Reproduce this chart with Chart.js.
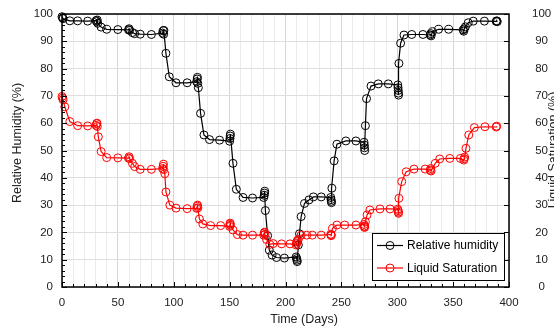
<!DOCTYPE html>
<html><head><meta charset="utf-8">
<script src="https://cdn.jsdelivr.net/npm/chart.js@4/dist/chart.umd.min.js"></script>
<style>html,body{margin:0;padding:0;background:#fff;overflow:hidden}canvas{display:block}</style>
</head><body>
<canvas id="c" width="554" height="329"></canvas>
<script>
const rhDays = [0,0.5,1,7,14,23,30.5,31,31.5,32,35,40,50,59.5,60,60.5,63,65,70,80,90,90.5,91,91.2,93,96,102,112,120.5,121,121.2,121.5,122,124,127,132,141,150,150.3,150.5,150.7,153,156,162,170.5,180.5,181,181.2,181.4,182,184,185.5,188,192,199,209.5,210,210.3,210.5,211.5,212.5,214,217,221,225,232,240.5,240.8,241,241.2,241.5,243.5,246,254,263,270.3,270.5,270.7,270.9,271.5,272.5,276.5,283,292,300.5,300.7,300.9,301,301.2,301.5,303,306,313,323,329.5,330,330.3,331.5,337,346,359,359.5,360,361,363.5,368,378,388.5,389,389.5];
const rhValues = [99,98.6,98.3,97.5,97.5,97.4,97.6,97.2,97.8,96.6,95.2,94.4,94.3,94.2,94.6,94.0,93.2,92.8,92.6,92.5,93.0,93.8,92.6,94.0,85.6,77.0,74.8,74.8,75.2,76.2,76.8,74.6,73.0,63.6,55.7,54.0,53.8,53.4,54.4,55.3,56.0,45.3,35.8,32.8,32.6,32.8,33.6,34.4,35.1,28.0,18.8,13.5,11.7,10.8,10.6,11.0,10.4,9.8,9.3,15.4,19.5,25.8,30.6,31.9,33.0,33.0,32.8,32.0,31.4,30.9,36.2,46.2,52.3,53.5,53.5,53.0,52.0,51.0,50.0,59.1,69.0,73.6,74.4,74.4,74.0,73.0,72.0,71.0,70.3,81.9,89.3,92.3,92.5,92.5,92.3,92.8,92.0,93.5,94.4,94.4,94.2,93.7,94.6,95.3,96.8,97.4,97.4,97.3,97.5,97.2];
const lsDays = [0,0.5,1,2.5,7,14,23,30.5,31,31.3,31.6,32.5,35,40,50,59.5,60,60.5,63,65,70,80,90,90.5,90.8,91,92,93,96.5,102,112,120.5,121,121.3,121.6,123,126,133,142,150,150.3,150.5,150.7,153,157,162,170.5,180.5,181,181.3,181.6,183,186,189,196.5,204,209.5,210,210.3,210.6,211.5,214,219,224,232,240.5,240.8,241,242,246,253,263,270.3,270.5,270.7,270.9,271.5,273,275.5,284.5,293.5,300.5,300.7,301,301.2,301.5,304,308,315,325,329.5,330,330.3,334,338,347,356.5,359.5,360,360.3,361.5,364,369,378.5,388.5,389];
const lsValues = [69.8,69.2,68.6,66.0,60.6,59.1,59.0,59.2,59.8,60.0,58.8,55.0,49.6,47.4,47.3,47.2,47.7,47.0,45.3,44.1,43.1,43.1,43.4,44.2,45.0,43.0,41.5,34.8,30.0,28.9,28.7,28.8,29.6,30.0,29.0,24.9,23.1,22.5,22.5,22.2,23.0,23.4,22.6,20.9,19.2,19.0,19.0,19.0,19.8,20.1,19.3,17.4,15.6,15.9,15.8,15.8,15.4,16.0,16.6,17.0,17.4,19.0,19.0,19.0,19.0,19.3,18.8,19.1,21.5,22.7,22.7,22.7,22.9,22.3,21.8,22.1,23.9,26.4,28.2,28.6,28.6,28.5,28.0,27.4,27.0,32.5,38.6,42.2,43.2,43.2,42.8,43.4,42.5,45.3,46.9,47.1,47.1,46.5,47.0,47.6,50.8,55.7,58.4,58.7,58.6,58.9];
const xTickLabels = [0,50,100,150,200,250,300,350,400];
const yTickLabels = [0,10,20,30,40,50,60,70,80,90,100];
const seriesNames = ['Relative humidity','Liquid Saturation'];
const xTitle = 'Time (Days)';
const yTitle = 'Relative Humidity (%)';
const y2Title = 'Liquid Saturation (%)';

const FONT = '"Liberation Sans", Arial, sans-serif';
const toPts = (xs, ys) => xs.map((d, i) => ({x: d, y: ys[i]}));

const decor = {
  id: 'decor',
  afterDatasetsDraw(chart) {
    const {ctx, chartArea: a, scales: {x, y}} = chart;
    ctx.save();
    ctx.strokeStyle = '#000';
    ctx.lineWidth = 1;
    for (let d = 0; d <= 400; d += 10) {
      const px = Math.round(x.getPixelForValue(d)) + 0.5;
      const len = d % 50 === 0 ? 5 : 3;
      ctx.beginPath(); ctx.moveTo(px, a.bottom); ctx.lineTo(px, a.bottom - len); ctx.stroke();
    }
    for (let v = 0; v <= 100; v += 2) {
      const py = Math.round(y.getPixelForValue(v)) + 0.5;
      const len = v % 10 === 0 ? 5 : 3;
      ctx.beginPath(); ctx.moveTo(a.left, py); ctx.lineTo(a.left + len, py); ctx.stroke();
    }
    for (let v = 0; v <= 100; v += 10) {
      const py = Math.round(y.getPixelForValue(v)) + 0.5;
      ctx.beginPath(); ctx.moveTo(a.right, py); ctx.lineTo(a.right - 5, py); ctx.stroke();
    }
    ctx.lineWidth = 1.5;
    ctx.strokeRect(a.left, a.top, a.right - a.left, a.bottom - a.top);

    // legend
    const lx = 372.5, ly = 233.5, lw = 132, lh = 47;
    ctx.fillStyle = '#fff';
    ctx.fillRect(lx, ly, lw, lh);
    ctx.lineWidth = 1;
    ctx.strokeStyle = '#000';
    ctx.strokeRect(lx, ly, lw, lh);
    const cols = ['#000000', '#ff0000'];
    const rows = [245.5, 268];
    ctx.font = '12px ' + FONT;
    ctx.textBaseline = 'middle';
    ctx.textAlign = 'left';
    for (let i = 0; i < 2; i++) {
      ctx.strokeStyle = cols[i];
      ctx.lineWidth = 1.2;
      ctx.beginPath(); ctx.moveTo(377, rows[i]); ctx.lineTo(403, rows[i]); ctx.stroke();
      ctx.lineWidth = 1;
      ctx.beginPath(); ctx.arc(390, rows[i], 4, 0, Math.PI * 2); ctx.stroke();
      ctx.fillStyle = '#000';
      ctx.fillText(seriesNames[i], 407, rows[i] + 0.5);
    }

    // titles
    ctx.fillStyle = '#222';
    ctx.font = '12.5px ' + FONT;
    ctx.textAlign = 'center';
    ctx.textBaseline = 'middle';
    ctx.fillText(xTitle, 304, 320);
    ctx.save();
    ctx.translate(18, 143); ctx.rotate(-Math.PI / 2);
    ctx.fillText(yTitle, 0, 0);
    ctx.restore();
    ctx.save();
    ctx.translate(554, 150); ctx.rotate(-Math.PI / 2);
    ctx.fillText(y2Title, 0, 0);
    ctx.restore();
    ctx.restore();
  }
};

const noPadV = s => { s.paddingTop = 0; s.paddingBottom = 0; };

new Chart(document.getElementById('c'), {
  type: 'line',
  data: {
    datasets: [
      {label: seriesNames[1], data: toPts(lsDays, lsValues), borderColor: '#ff0000', backgroundColor: 'rgba(0,0,0,0)',
       borderWidth: 1.2, pointRadius: 4, pointBorderWidth: 1, pointBorderColor: '#ff0000', pointBackgroundColor: 'rgba(0,0,0,0)',
       tension: 0, clip: false, order: 0},
      {label: seriesNames[0], data: toPts(rhDays, rhValues), borderColor: '#000000', backgroundColor: 'rgba(0,0,0,0)',
       borderWidth: 1.2, pointRadius: 4, pointBorderWidth: 1, pointBorderColor: '#000000', pointBackgroundColor: 'rgba(0,0,0,0)',
       tension: 0, clip: false, order: 1}
    ]
  },
  options: {
    responsive: false,
    animation: false,
    devicePixelRatio: 1,
    layout: {padding: {top: 14, left: 0, right: 0, bottom: 0}},
    plugins: {legend: {display: false}, tooltip: {enabled: false}},
    scales: {
      x: {
        type: 'linear', min: 0, max: 400,
        afterFit: s => { s.height = 42; s.paddingLeft = 0; s.paddingRight = 0; },
        ticks: {stepSize: 10, autoSkip: false, maxRotation: 0, padding: 9, color: '#222',
                font: {family: FONT, size: 11.5},
                callback: v => xTickLabels.includes(v) ? String(v) : ''},
        grid: {drawTicks: false, color: c => (c.tick && c.tick.value % 50 === 0) ? '#d6d6d6' : '#ebebeb', lineWidth: 1},
        border: {display: false}
      },
      y: {
        position: 'left', min: 0, max: 100,
        afterFit: s => { s.width = 62; noPadV(s); },
        ticks: {stepSize: 10, padding: 9, color: '#222', font: {family: FONT, size: 11.5},
                callback: v => yTickLabels.includes(v) ? String(v) : ''},
        grid: {drawTicks: false, color: '#dedede', lineWidth: 1},
        border: {display: false}
      },
      y2: {
        position: 'right', min: 0, max: 100,
        afterFit: s => { s.width = 45; noPadV(s); },
        ticks: {stepSize: 10, padding: 23, crossAlign: 'center', color: '#222', font: {family: FONT, size: 11.5},
                callback: v => yTickLabels.includes(v) ? String(v) : ''},
        grid: {drawTicks: false, drawOnChartArea: false},
        border: {display: false}
      }
    }
  },
  plugins: [decor]
});
</script>
</body></html>
